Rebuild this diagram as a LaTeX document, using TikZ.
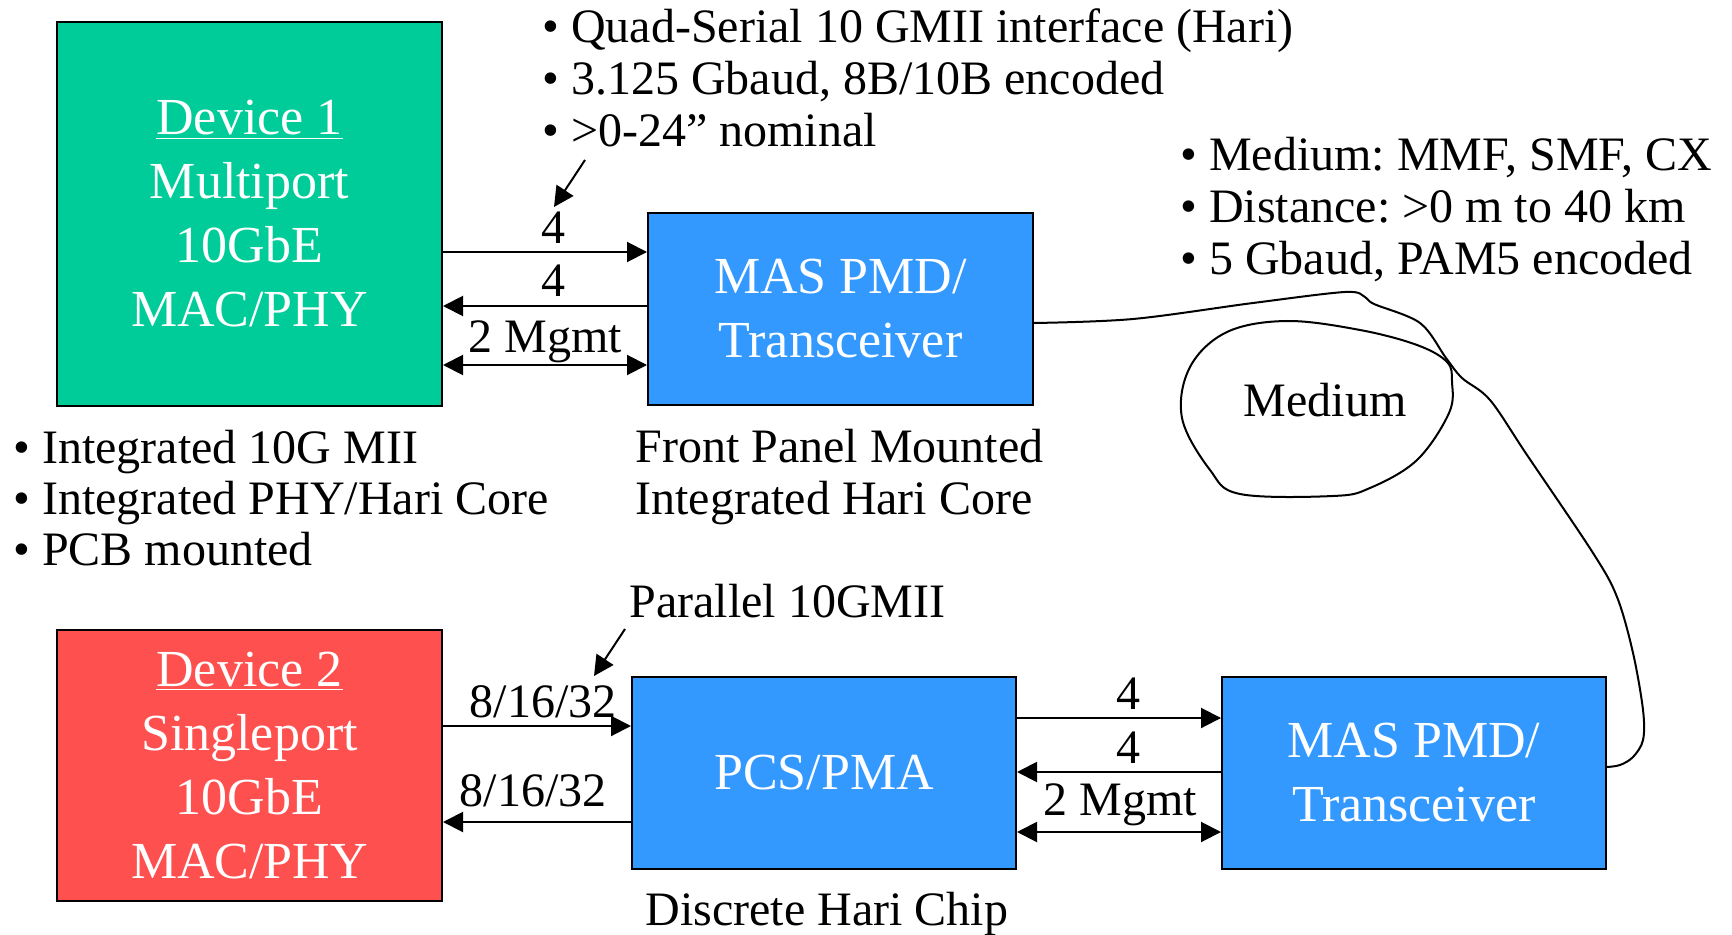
\documentclass[tikz,border=0pt]{standalone}
\usepackage{fontspec}
\setmainfont{Liberation Serif}
\usetikzlibrary{arrows.meta}
\definecolor{devgreen}{RGB}{0,204,153}
\definecolor{devred}{RGB}{255,80,80}
\definecolor{boxblue}{RGB}{51,153,255}
\frenchspacing
\begin{document}
\begin{tikzpicture}[x=0.5pt,y=-0.5pt,
  box/.style={draw=black, line width=1pt, inner sep=0pt, align=center, text=white,
    font=\fontsize{26}{32}\selectfont},
  txt/.style={inner sep=0pt, anchor=base west, font=\fontsize{24}{29}\selectfont},
  lbl/.style={inner sep=0pt, anchor=base, font=\fontsize{24}{29}\selectfont},
  arr/.style={line width=1pt, -{Triangle[length=10pt,width=10pt]}},
  darr/.style={line width=1pt, {Triangle[length=10pt,width=10pt]}-{Triangle[length=10pt,width=10pt]}},
  wire/.style={line width=1pt}
]
\useasboundingbox (0,0) rectangle (1732,935);

% boxes
\node[box, fill=devgreen, minimum width=192.5pt, minimum height=192pt] (d1) at (249.5,214)
  {\underline{Device 1}\\Multiport\\10GbE\\MAC/PHY};
\node[box, fill=devred, minimum width=192.5pt, minimum height=135.5pt] (d2) at (249.5,765.5)
  {\underline{Device 2}\\Singleport\\10GbE\\MAC/PHY};
\node[box, fill=boxblue, minimum width=192.5pt, minimum height=96pt] (mas1) at (840.5,309)
  {MAS PMD/\\Transceiver};
\node[box, fill=boxblue, minimum width=192pt, minimum height=96pt] (pcs) at (824,773)
  {PCS/PMA};
\node[box, fill=boxblue, minimum width=192pt, minimum height=96pt] (mas2) at (1414,773)
  {MAS PMD/\\Transceiver};

% helper levels
\coordinate (ya) at (0,252);
\coordinate (yb) at (0,306);
\coordinate (yc) at (0,365);
\coordinate (yd) at (0,726);
\coordinate (ye) at (0,822);
\coordinate (yf) at (0,718);
\coordinate (yg) at (0,772);
\coordinate (yh) at (0,832);
\coordinate (ym1) at (0,323);
\coordinate (ym2) at (0,767);

% top connectors
\draw[arr] (d1.east |- ya) -- (mas1.west |- ya);
\draw[arr] (mas1.west |- yb) -- (d1.east |- yb);
\draw[darr] (d1.east |- yc) -- (mas1.west |- yc);
\node[lbl] (l1) at (553,244) {4};
\node[lbl] (l2) at (553,297) {4};
\node[lbl] (l3) at (545,352) {2 Mgmt};

% bottom-left connectors
\draw[arr] (d2.east |- yd) -- (pcs.west |- yd);
\draw[arr] (pcs.west |- ye) -- (d2.east |- ye);
\node[lbl] (l4) at (543,717) {8/16/32};
\node[lbl] (l5) at (533,806) {8/16/32};

% bottom-right connectors
\draw[arr] (pcs.east |- yf) -- (mas2.west |- yf);
\draw[arr] (mas2.west |- yg) -- (pcs.east |- yg);
\draw[darr] (pcs.east |- yh) -- (mas2.west |- yh);
\node[lbl] (l6) at (1128,709) {4};
\node[lbl] (l7) at (1128,763) {4};
\node[lbl] (l8) at (1120,815) {2 Mgmt};

% pointer arrows
\coordinate (pa1) at (585,160);
\coordinate (pa2) at (554,207);
\draw[arr] (pa1) -- (pa2);
\coordinate (pb1) at (625,629);
\coordinate (pb2) at (594,676);
\draw[arr] (pb1) -- (pb2);

% top bullets
\node[txt] (t1) at (542,43) {• Quad-Serial 10 GMII interface (Hari)};
\node[txt] (t2) at (542,95) {• 3.125 Gbaud, 8B/10B encoded};
\node[txt] (t3) at (542,147) {• >0-24” nominal};

% right bullets
\node[txt] (r1) at (1180,171) {• Medium: MMF, SMF, CX};
\node[txt] (r2) at (1180,223) {• Distance: >0 m to 40 km};
\node[txt] (r3) at (1180,275) {• 5 Gbaud, PAM5 encoded};

% bottom-left bullets
\node[txt] (b1) at (13,463) {• Integrated 10G MII};
\node[txt] (b2) at (13,514) {• Integrated PHY/Hari Core};
\node[txt] (b3) at (13,565) {• PCB mounted};

% captions
\node[txt] (c1) at (635,462) {Front Panel Mounted};
\node[txt] (c2) at (635,514) {Integrated Hari Core};
\node[txt] (c3) at (629,617) {Parallel 10GMII};
\node[txt] (c4) at (645,925) {Discrete Hari Chip};

% medium
\node[lbl] (med) at (1325,416) {Medium};
\draw[wire] plot[smooth, tension=0.55] coordinates {
  (mas1.east |- ym1) (1133,319) (1253,303) (1345,292) (1365,297) (1374,304)
  (1420,323) (1446,358) (1462,378) (1490,400) (1527,455) (1593,553) (1617,597)
  (1633,653) (1643,710) (1643,740) (1633,757) (1620,765) (mas2.east |- ym2)};
\draw[wire] plot[smooth cycle, tension=0.6] coordinates {
  (1287,321) (1360,330) (1417,345) (1447,362) (1452,382) (1449,413) (1417,460)
  (1370,488) (1333,496) (1240,494) (1210,470) (1182,418) (1190,367) (1227,332)};
\end{tikzpicture}
\end{document}
